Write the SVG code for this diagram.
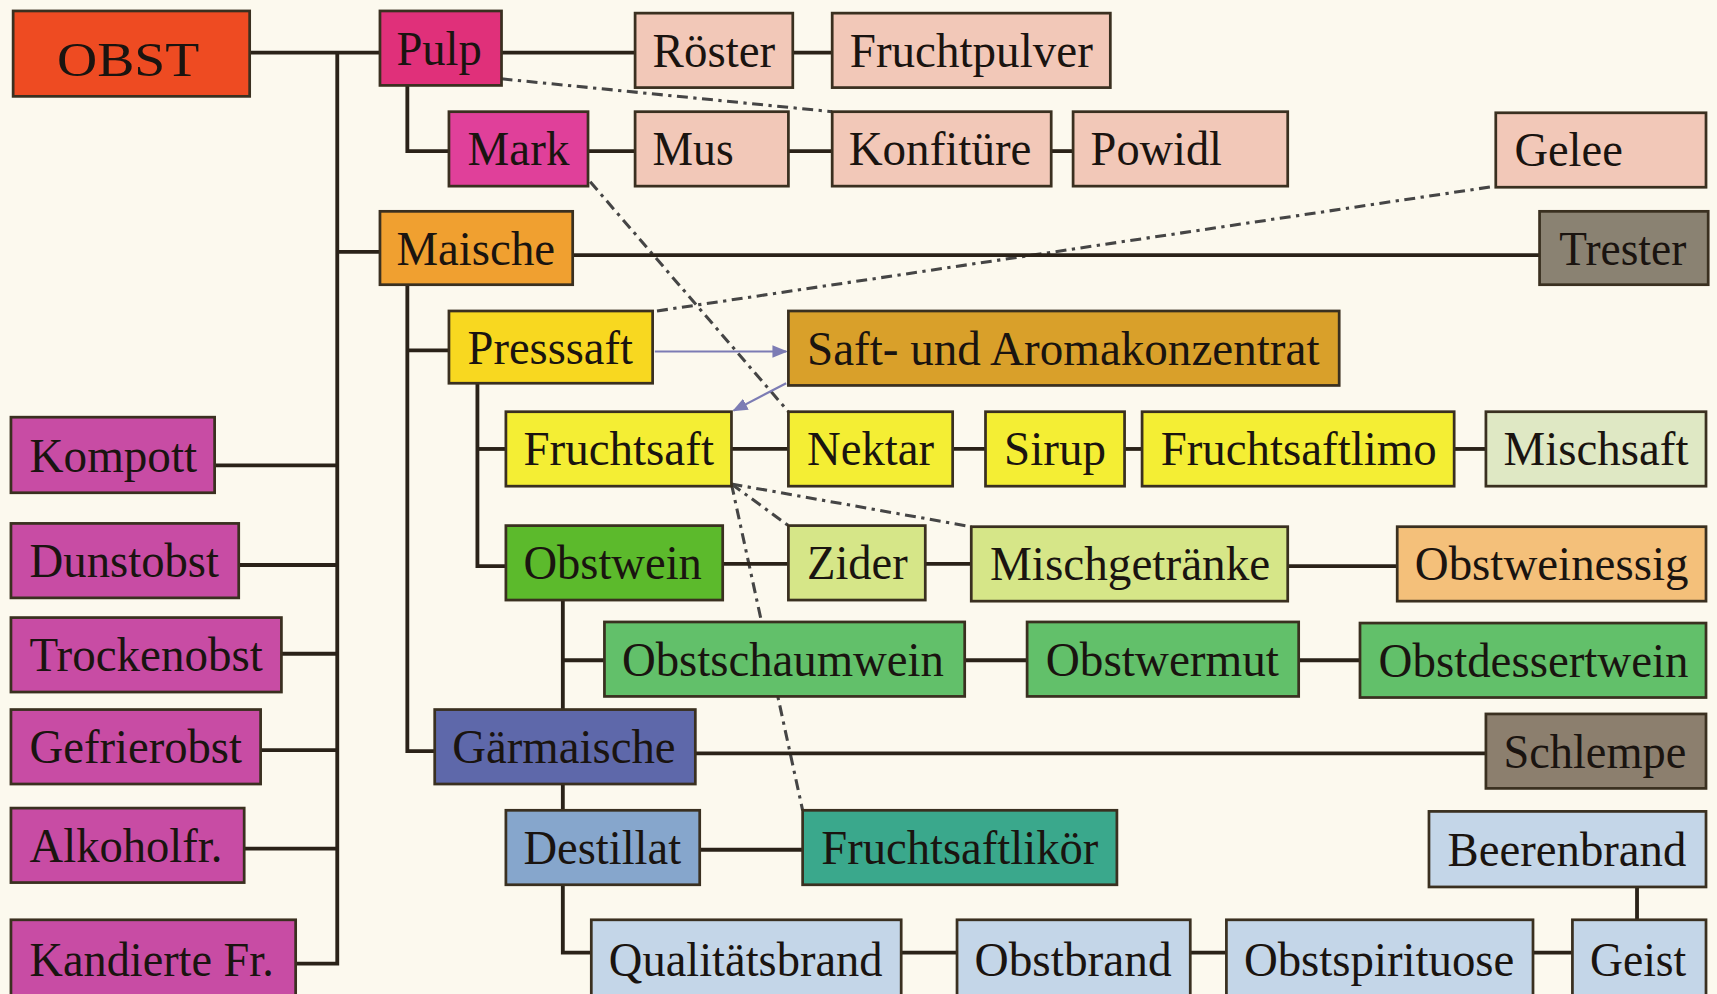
<svg xmlns="http://www.w3.org/2000/svg" width="1717" height="994" viewBox="0 0 1717 994">
<defs>
<style>
.b{stroke:#3a3020;stroke-width:2.5}
.t{font-family:"Liberation Serif","Times New Roman",serif;font-size:44px;fill:#1a1410}
.c{stroke:#2a2218;stroke-width:3.5;fill:none}
.d{stroke:#454545;stroke-width:2.8;fill:none;stroke-dasharray:10 5 3 5}
.a{stroke:#7c7cb4;stroke-width:2;fill:none}
.pk{fill:#f2c8b8}.ye{fill:#f4ee34}.gr{fill:#62c06a}.lb{fill:#c4d6e8}.mg{fill:#c84ca4}.yg{fill:#d6e688}
</style>
<marker id="ah" viewBox="0 0 10 10" refX="9" refY="5" markerWidth="7" markerHeight="7" orient="auto-start-reverse"><path d="M0,1 L10,5 L0,9 z" fill="#7c7cb4"/></marker>
</defs>
<rect width="1717" height="994" fill="#fcf9ee"/>
<g transform="scale(1.095)">
<g id="dashed">
<line class="d" x1="458" y1="72" x2="760" y2="102"/>
<line class="d" x1="539" y1="166" x2="720" y2="376"/>
<line class="d" x1="600" y1="284" x2="1366" y2="170"/>
<line class="d" x1="668" y1="442" x2="887" y2="481"/>
<line class="d" x1="668" y1="442" x2="720" y2="480"/>
<line class="d" x1="668" y1="442" x2="733" y2="740"/>
</g>
<g id="connectors">
<polyline class="c" points="228,48 347,48"/>
<polyline class="c" points="308,48 308,880 270,880"/>
<line class="c" x1="308" y1="230" x2="347" y2="230"/>
<line class="c" x1="196" y1="425" x2="308" y2="425"/>
<line class="c" x1="218" y1="516" x2="308" y2="516"/>
<line class="c" x1="257" y1="597" x2="308" y2="597"/>
<line class="c" x1="238" y1="685" x2="308" y2="685"/>
<line class="c" x1="223" y1="775" x2="308" y2="775"/>
<line class="c" x1="458" y1="48" x2="580" y2="48"/>
<line class="c" x1="724" y1="48" x2="760" y2="48"/>
<polyline class="c" points="372,78 372,138 410,138"/>
<line class="c" x1="537" y1="138" x2="580" y2="138"/>
<line class="c" x1="720" y1="138" x2="760" y2="138"/>
<line class="c" x1="960" y1="138" x2="980" y2="138"/>
<line class="c" x1="523" y1="233" x2="1406" y2="233"/>
<polyline class="c" points="372,260 372,686 397,686"/>
<line class="c" x1="372" y1="320" x2="410" y2="320"/>
<polyline class="c" points="436,350 436,517 462,517"/>
<line class="c" x1="436" y1="410" x2="462" y2="410"/>
<line class="c" x1="668" y1="410" x2="720" y2="410"/>
<line class="c" x1="870" y1="410" x2="900" y2="410"/>
<line class="c" x1="1027" y1="410" x2="1043" y2="410"/>
<line class="c" x1="1328" y1="410" x2="1357" y2="410"/>
<line class="c" x1="660" y1="515" x2="720" y2="515"/>
<line class="c" x1="845" y1="515" x2="887" y2="515"/>
<line class="c" x1="1176" y1="517" x2="1276" y2="517"/>
<polyline class="c" points="514,548 514,648"/>
<line class="c" x1="514" y1="603" x2="552" y2="603"/>
<line class="c" x1="881" y1="603" x2="938" y2="603"/>
<line class="c" x1="1186" y1="603" x2="1242" y2="603"/>
<line class="c" x1="635" y1="688" x2="1357" y2="688"/>
<line class="c" x1="514" y1="716" x2="514" y2="740"/>
<line class="c" x1="639" y1="776" x2="733" y2="776"/>
<polyline class="c" points="514,808 514,870 540,870"/>
<line class="c" x1="823" y1="870" x2="874" y2="870"/>
<line class="c" x1="1087" y1="870" x2="1120" y2="870"/>
<line class="c" x1="1400" y1="870" x2="1436" y2="870"/>
<line class="c" x1="1495" y1="810" x2="1495" y2="840"/>
<line class="a" x1="598" y1="321" x2="718" y2="321" marker-end="url(#ah)"/>
<line class="a" x1="718" y1="350" x2="670" y2="375" marker-end="url(#ah)"/>
</g>
<g id="n-obst"><rect class="b" x="12" y="10" width="216" height="78" fill="#ee4b22"/><text class="t" x="52" y="69" font-size="56" textLength="130" lengthAdjust="spacingAndGlyphs">OBST</text></g>
<g id="n-pulp"><rect class="b" x="347" y="10" width="111" height="68" fill="#e0307a"/><text class="t" x="362" y="59" textLength="78" lengthAdjust="spacingAndGlyphs">Pulp</text></g>
<g id="n-roester"><rect class="b pk" x="580" y="12" width="144" height="68"/><text class="t" x="596" y="61" textLength="112" lengthAdjust="spacingAndGlyphs">Röster</text></g>
<g id="n-fruchtpulver"><rect class="b pk" x="760" y="12" width="254" height="68"/><text class="t" x="776" y="61" textLength="222" lengthAdjust="spacingAndGlyphs">Fruchtpulver</text></g>
<g id="n-mark"><rect class="b" x="410" y="102" width="127" height="68" fill="#e0409a"/><text class="t" x="427" y="151" textLength="93" lengthAdjust="spacingAndGlyphs">Mark</text></g>
<g id="n-mus"><rect class="b pk" x="580" y="102" width="140" height="68"/><text class="t" x="596" y="151" textLength="74" lengthAdjust="spacingAndGlyphs">Mus</text></g>
<g id="n-konfituere"><rect class="b pk" x="760" y="102" width="200" height="68"/><text class="t" x="775" y="151" textLength="167" lengthAdjust="spacingAndGlyphs">Konfitüre</text></g>
<g id="n-powidl"><rect class="b pk" x="980" y="102" width="196" height="68"/><text class="t" x="996" y="151" textLength="120" lengthAdjust="spacingAndGlyphs">Powidl</text></g>
<g id="n-gelee"><rect class="b pk" x="1366" y="103" width="192" height="68"/><text class="t" x="1383" y="152" textLength="99" lengthAdjust="spacingAndGlyphs">Gelee</text></g>
<g id="n-maische"><rect class="b" x="347" y="193" width="176" height="67" fill="#f0a030"/><text class="t" x="362" y="242" textLength="145" lengthAdjust="spacingAndGlyphs">Maische</text></g>
<g id="n-trester"><rect class="b" x="1406" y="193" width="154" height="67" fill="#8a8272"/><text class="t" x="1424" y="242" textLength="116" lengthAdjust="spacingAndGlyphs">Trester</text></g>
<g id="n-presssaft"><rect class="b" x="410" y="284" width="186" height="66" fill="#f8d820"/><text class="t" x="427" y="332" textLength="151" lengthAdjust="spacingAndGlyphs">Presssaft</text></g>
<g id="n-saft"><rect class="b" x="720" y="284" width="503" height="68" fill="#d9a02a"/><text class="t" x="737" y="333" textLength="468" lengthAdjust="spacingAndGlyphs">Saft- und Aromakonzentrat</text></g>
<g id="n-fruchtsaft"><rect class="b ye" x="462" y="376" width="206" height="68"/><text class="t" x="478" y="425" textLength="174" lengthAdjust="spacingAndGlyphs">Fruchtsaft</text></g>
<g id="n-nektar"><rect class="b ye" x="720" y="376" width="150" height="68"/><text class="t" x="737" y="425" textLength="116" lengthAdjust="spacingAndGlyphs">Nektar</text></g>
<g id="n-sirup"><rect class="b ye" x="900" y="376" width="127" height="68"/><text class="t" x="917" y="425" textLength="93" lengthAdjust="spacingAndGlyphs">Sirup</text></g>
<g id="n-fruchtsaftlimo"><rect class="b ye" x="1043" y="376" width="285" height="68"/><text class="t" x="1060" y="425" textLength="252" lengthAdjust="spacingAndGlyphs">Fruchtsaftlimo</text></g>
<g id="n-mischsaft"><rect class="b" x="1357" y="376" width="201" height="68" fill="#dfe8c4"/><text class="t" x="1373" y="425" textLength="169" lengthAdjust="spacingAndGlyphs">Mischsaft</text></g>
<g id="n-obstwein"><rect class="b" x="462" y="480" width="198" height="68" fill="#5cba2c"/><text class="t" x="478" y="529" textLength="163" lengthAdjust="spacingAndGlyphs">Obstwein</text></g>
<g id="n-zider"><rect class="b yg" x="720" y="480" width="125" height="68"/><text class="t" x="737" y="529" textLength="92" lengthAdjust="spacingAndGlyphs">Zider</text></g>
<g id="n-mischgetraenke"><rect class="b yg" x="887" y="481" width="289" height="68"/><text class="t" x="904" y="530" textLength="256" lengthAdjust="spacingAndGlyphs">Mischgetränke</text></g>
<g id="n-obstweinessig"><rect class="b" x="1276" y="481" width="282" height="68" fill="#f4c07a"/><text class="t" x="1292" y="530" textLength="250" lengthAdjust="spacingAndGlyphs">Obstweinessig</text></g>
<g id="n-obstschaumwein"><rect class="b gr" x="552" y="568" width="329" height="68"/><text class="t" x="568" y="617" textLength="294" lengthAdjust="spacingAndGlyphs">Obstschaumwein</text></g>
<g id="n-obstwermut"><rect class="b gr" x="938" y="568" width="248" height="68"/><text class="t" x="955" y="617" textLength="213" lengthAdjust="spacingAndGlyphs">Obstwermut</text></g>
<g id="n-obstdessertwein"><rect class="b gr" x="1242" y="569" width="316" height="68"/><text class="t" x="1259" y="618" textLength="283" lengthAdjust="spacingAndGlyphs">Obstdessertwein</text></g>
<g id="n-gaermaische"><rect class="b" x="397" y="648" width="238" height="68" fill="#5e68aa"/><text class="t" x="413" y="697" textLength="204" lengthAdjust="spacingAndGlyphs">Gärmaische</text></g>
<g id="n-schlempe"><rect class="b" x="1357" y="652" width="201" height="68" fill="#8c7f6e"/><text class="t" x="1373" y="701" textLength="167" lengthAdjust="spacingAndGlyphs">Schlempe</text></g>
<g id="n-destillat"><rect class="b" x="462" y="740" width="177" height="68" fill="#86a6cc"/><text class="t" x="478" y="789" textLength="144" lengthAdjust="spacingAndGlyphs">Destillat</text></g>
<g id="n-fruchtsaftlikoer"><rect class="b" x="733" y="740" width="287" height="68" fill="#3aa88c"/><text class="t" x="750" y="789" textLength="253" lengthAdjust="spacingAndGlyphs">Fruchtsaftlikör</text></g>
<g id="n-beerenbrand"><rect class="b lb" x="1305" y="741" width="253" height="69"/><text class="t" x="1322" y="791" textLength="218" lengthAdjust="spacingAndGlyphs">Beerenbrand</text></g>
<g id="n-qualitaetsbrand"><rect class="b lb" x="540" y="840" width="283" height="72"/><text class="t" x="556" y="891" textLength="250" lengthAdjust="spacingAndGlyphs">Qualitätsbrand</text></g>
<g id="n-obstbrand"><rect class="b lb" x="874" y="840" width="213" height="72"/><text class="t" x="890" y="891" textLength="180" lengthAdjust="spacingAndGlyphs">Obstbrand</text></g>
<g id="n-obstspirituose"><rect class="b lb" x="1120" y="840" width="280" height="72"/><text class="t" x="1136" y="891" textLength="247" lengthAdjust="spacingAndGlyphs">Obstspirituose</text></g>
<g id="n-geist"><rect class="b lb" x="1436" y="840" width="122" height="72"/><text class="t" x="1452" y="891" textLength="88" lengthAdjust="spacingAndGlyphs">Geist</text></g>
<g id="n-kompott"><rect class="b mg" x="10" y="381" width="186" height="69"/><text class="t" x="27" y="431" textLength="153" lengthAdjust="spacingAndGlyphs">Kompott</text></g>
<g id="n-dunstobst"><rect class="b mg" x="10" y="478" width="208" height="68"/><text class="t" x="27" y="527" textLength="173" lengthAdjust="spacingAndGlyphs">Dunstobst</text></g>
<g id="n-trockenobst"><rect class="b mg" x="10" y="564" width="247" height="68"/><text class="t" x="27" y="613" textLength="213" lengthAdjust="spacingAndGlyphs">Trockenobst</text></g>
<g id="n-gefrierobst"><rect class="b mg" x="10" y="648" width="228" height="68"/><text class="t" x="27" y="697" textLength="194" lengthAdjust="spacingAndGlyphs">Gefrierobst</text></g>
<g id="n-alkoholfr"><rect class="b mg" x="10" y="738" width="213" height="68"/><text class="t" x="27" y="787" textLength="176" lengthAdjust="spacingAndGlyphs">Alkoholfr.</text></g>
<g id="n-kandierte"><rect class="b mg" x="10" y="840" width="260" height="72"/><text class="t" x="27" y="891" textLength="223" lengthAdjust="spacingAndGlyphs">Kandierte Fr.</text></g>
</g>
</svg>
